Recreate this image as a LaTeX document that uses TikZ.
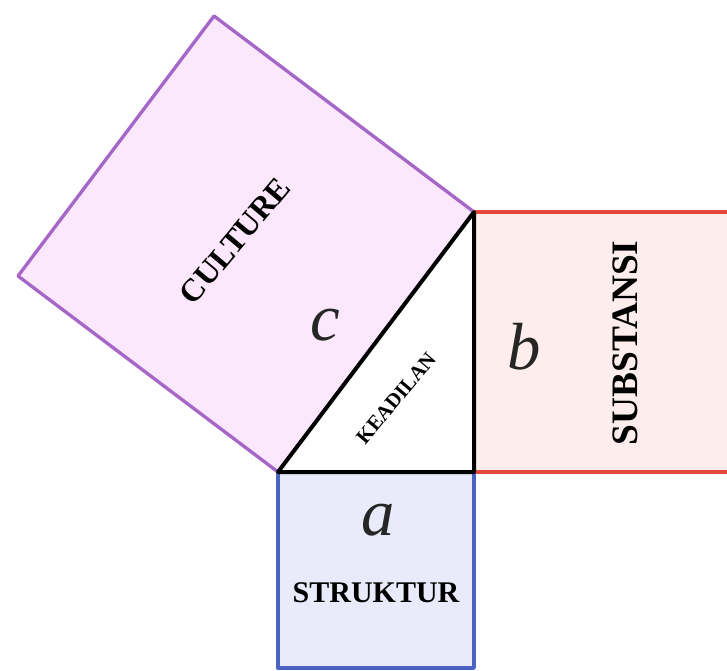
\documentclass[tikz,border=0pt]{standalone}
\usepackage{fontspec}
\setmainfont{Liberation Serif}
\definecolor{purpleline}{HTML}{A566C8}
\definecolor{purplefill}{HTML}{FCE8FC}
\definecolor{redline}{HTML}{E4483A}
\definecolor{redfill}{HTML}{FDEDEC}
\definecolor{blueline}{HTML}{4A62C0}
\definecolor{bluefill}{HTML}{E9EAFA}
\begin{document}
\begin{tikzpicture}[x=0.75pt,y=-0.75pt,
  squareside/.style={line width=2.5pt, line join=round},
  legline/.style={line width=3pt, line join=round, draw=black},
  sidename/.style={font=\fontsize{22.5}{26}\selectfont\bfseries, inner sep=0pt},
  sideletter/.style={font=\fontsize{50}{56}\selectfont\itshape, text=black!85, inner sep=0pt}]
\useasboundingbox (0,0) rectangle (727,670);
\clip (0,0) rectangle (727,670);
% corners of the right triangle
\coordinate (A) at (278,472);
\coordinate (B) at (474,472);
\coordinate (C) at (474,212);
% square on the hypotenuse
\coordinate (D) at (214,16);
\coordinate (E) at (18,276);
\filldraw[squareside, draw=purpleline, fill=purplefill] (A) -- (C) -- (D) -- (E) -- cycle;
% square on side b
\filldraw[squareside, draw=redline, fill=redfill] (C) -- (734,212) -- (734,472) -- (B);
% square on side a
\filldraw[squareside, draw=blueline, fill=bluefill] (A) -- (B) -- (474,668) -- (278,668) -- cycle;
% the triangle itself
\filldraw[legline, fill=white] (A) -- (B) -- (C) -- cycle;
% labels
\node[sideletter] (la) at (378,520) {a};
\node[sideletter] (lb) at (524,347) {b};
\node[sideletter] (lc) at (325,325) {c};
\node[sidename] (struktur) at (376,593) {STRUKTUR};
\node[sidename, font=\fontsize{28}{32}\selectfont\bfseries, rotate=90] (substansi) at (625,343) {SUBSTANSI};
\node[sidename, font=\fontsize{24}{28}\selectfont\bfseries, rotate=50] (culture) at (235,241) {CULTURE};
\node[sidename, font=\fontsize{15.5}{18}\selectfont\bfseries, rotate=50] (keadilan) at (396,398) {KEADILAN};
\end{tikzpicture}
\end{document}
